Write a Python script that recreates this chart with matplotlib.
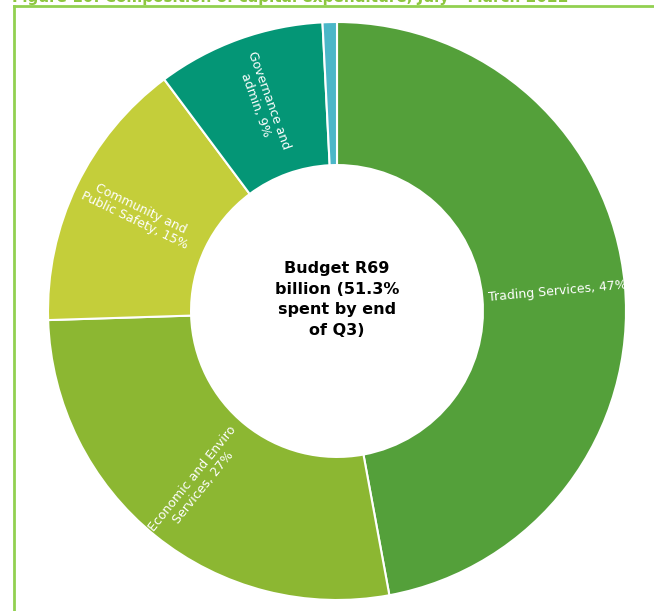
import numpy as np
import matplotlib
matplotlib.use("Agg")
import matplotlib.pyplot as plt
from matplotlib.lines import Line2D

# Capital expenditure composition (share of budget, %)
categories = ["Trading Services", "Economic and Enviro\nServices",
              "Community and\nPublic Safety", "Governance and\nadmin", "Other"]
shares = [47.1, 27.4, 15.3, 9.4, 0.8]
colors = ["#54A03A", "#8CB732", "#C4CE3A", "#049676", "#4BB7C8"]
show_label = [True, True, True, True, False]

title = "Figure 10: Composition of capital expenditure, July \u2013 March 2022"
centre_text = "Budget R69\nbillion (51.3%\nspent by end\nof Q3)"

W, H, DPI = 654, 611, 100
fig = plt.figure(figsize=(W / DPI, H / DPI), dpi=DPI)

# donut axes: centre (337, 311) px, radius 289 px
cx, cy, R = 337, 311, 289
ax = fig.add_axes([(cx - R) / W, (H - cy - R) / H, 2 * R / W, 2 * R / H])

wedges, _ = ax.pie(shares, colors=colors, startangle=90, counterclock=False,
                   radius=1.0,
                   wedgeprops=dict(width=0.495, edgecolor="white", linewidth=1.5))
ax.set_xlim(-1, 1)
ax.set_ylim(-1, 1)
ax.set_aspect("equal")
ax.axis("off")

# radial labels at the middle of each ring segment
for w, cat, val, show in zip(wedges, categories, shares, show_label):
    if not show:
        continue
    mid = 0.5 * (w.theta1 + w.theta2)
    rad = np.deg2rad(mid)
    r = 0.765
    rot = mid
    if np.cos(rad) < 0:
        rot = mid - 180
    rot = (rot + 180) % 360 - 180
    ax.text(r * np.cos(rad), r * np.sin(rad), f"{cat}, {val:.0f}%",
            ha="center", va="center", rotation=rot, rotation_mode="anchor",
            multialignment="center", color="white", fontsize=9.0,
            family="DejaVu Sans", linespacing=1.05)

ax.text(0, 0.04, centre_text, ha="center", va="center", fontsize=11.5,
        fontweight="bold", color="black", linespacing=1.45, family="DejaVu Sans")

# green frame, open to the right and bottom
fx, fy = 13.5 / W, 1 - 6 / H
fig.add_artist(Line2D([fx, fx], [-0.1, fy], transform=fig.transFigure,
                      color="#92D050", linewidth=2.0))
fig.add_artist(Line2D([fx, 1.1], [fy, fy], transform=fig.transFigure,
                      color="#92D050", linewidth=2.0))

fig.text(12 / W, 1 - 2 / H, title, ha="left", va="baseline", fontsize=11,
         fontweight="bold", color="#8DC63F", family="DejaVu Sans")

fig.savefig("out.png", dpi=DPI)
